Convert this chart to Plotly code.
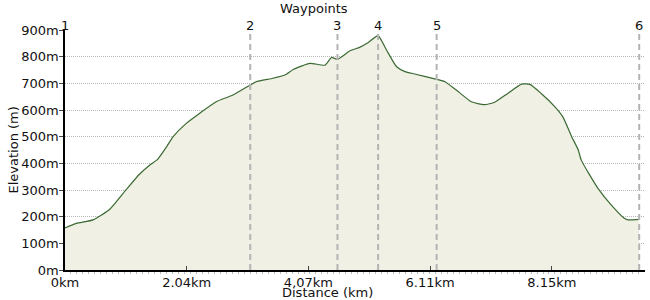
import plotly.graph_objects as go

# Distance along route (km) and elevation (m)
distance_km = [0.0, 0.19, 0.47, 0.75, 1.03, 1.25, 1.42, 1.55, 1.70, 1.81, 2.03, 2.25,
               2.53, 2.81, 3.10, 3.20, 3.48, 3.68, 3.82, 4.10, 4.35, 4.46, 4.56, 4.77,
               4.93, 5.07, 5.24, 5.38, 5.55, 5.69, 5.85, 6.22, 6.36, 6.58, 6.80, 7.02,
               7.19, 7.41, 7.64, 7.78, 7.97, 8.20, 8.33, 8.48, 8.59, 8.64, 8.92, 9.14,
               9.36, 9.42, 9.61]
elevation_m = [158, 175, 188, 228, 303, 360, 394, 415, 462, 500, 550, 587,
               631, 656, 694, 706, 719, 731, 752, 775, 768, 797, 790, 822,
               835, 852, 879, 825, 762, 744, 735, 715, 706, 669, 631, 620,
               629, 662, 697, 696, 662, 612, 575, 500, 450, 412, 306, 244,
               194, 188, 190]

waypoint_km = [0.0, 3.10, 4.56, 5.24, 6.22, 9.61]
waypoint_labels = ["1", "2", "3", "4", "5", "6"]

xtick_vals = [0.0, 2.037, 4.074, 6.111, 8.148]
xtick_text = ["0km", "2.04km", "4.07km", "6.11km", "8.15km"]
ytick_vals = [0, 100, 200, 300, 400, 500, 600, 700, 800, 900]
ytick_text = ["0m", "100m", "200m", "300m", "400m", "500m", "600m", "700m", "800m", "900m"]

FONT = "DejaVu Sans"
FS = 13

fig = go.Figure()
fig.add_trace(go.Scatter(
    x=distance_km, y=elevation_m, mode="lines",
    line=dict(color="#3b6a34", width=1.2, shape="spline", smoothing=0.5),
    fill="tozeroy", fillcolor="#f0f0e4",
    hoverinfo="skip", showlegend=False,
))

for wx, wl in zip(waypoint_km, waypoint_labels):
    if wx > 0:
        fig.add_shape(type="line", xref="x", yref="y", x0=wx, x1=wx, y0=0, y1=900,
                      line=dict(color="#b4b4b4", width=2, dash="6px,4px"), layer="above")
    fig.add_annotation(x=wx, y=1.0, xref="x", yref="paper", text=wl, showarrow=False,
                       yanchor="bottom", yshift=-5, font=dict(family=FONT, size=FS, color="#111"))

fig.add_annotation(x=0.429, y=1.0, xref="paper", yref="paper", text="Waypoints",
                   showarrow=False, yanchor="bottom", yshift=12,
                   font=dict(family=FONT, size=FS, color="#111"))

# axis titles
fig.add_annotation(x=0.452, y=0, xref="paper", yref="paper", text="Distance (km)",
                   showarrow=False, yanchor="top", yshift=-13,
                   font=dict(family=FONT, size=FS, color="#111"))
fig.add_annotation(x=-0.0888, y=0.5, xref="paper", yref="paper", text="Elevation (m)",
                   showarrow=False, xanchor="center", yanchor="middle", textangle=-90,
                   font=dict(family=FONT, size=FS, color="#111"))

fig.update_layout(
    width=650, height=300,
    margin=dict(l=65, r=5, t=30, b=30, autoexpand=False),
    paper_bgcolor="white", plot_bgcolor="white",
    font=dict(family=FONT, size=FS, color="#111"),
    xaxis=dict(
        range=[0, 9.707], tickmode="array", tickvals=xtick_vals, ticktext=xtick_text,
        showgrid=False, zeroline=False, showline=True, linecolor="#000", linewidth=1.5,
        ticks="inside", ticklen=4, tickcolor="#444", automargin=False,
        ticklabelstandoff=0,
        minor=dict(ticks="outside", ticklen=2, tickcolor="#bbb", dtick=0.1, tick0=0, showgrid=False),
        tickfont=dict(family=FONT, size=FS),
    ),
    yaxis=dict(
        range=[0, 900], tickmode="array", tickvals=ytick_vals, ticktext=ytick_text,
        showgrid=True, gridcolor="#b8b8b8", griddash="1px,1px", gridwidth=1,
        zeroline=False, showline=True, linecolor="#000", linewidth=1.5,
        ticks="outside", ticklen=4, tickcolor="#444", automargin=False,
        ticklabelstandoff=-2,
        tickfont=dict(family=FONT, size=FS),
    ),
)

fig.write_html("out.html")
